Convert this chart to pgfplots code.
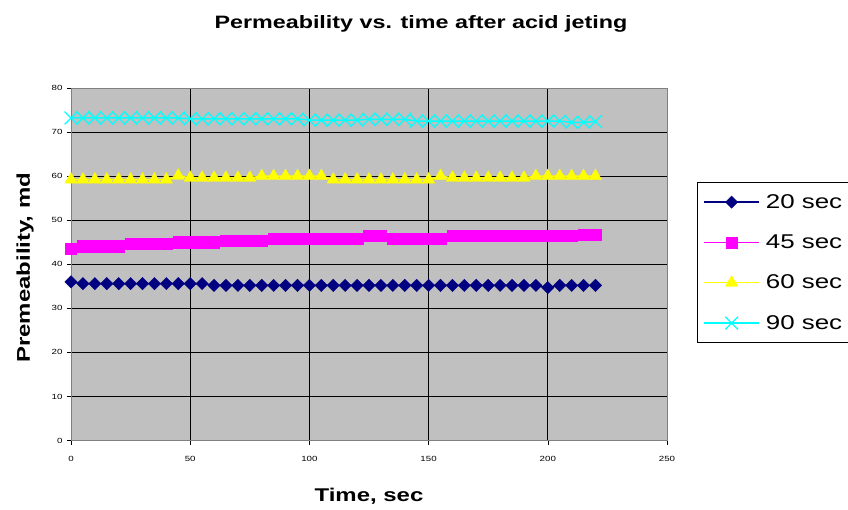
\documentclass[border=0pt]{standalone}
\usepackage{pgfplots}
\pgfplotsset{compat=1.18}
\usepackage{pgfplotstable}
\usepackage{fontspec}
\setmainfont{Liberation Sans}[FakeStretch=1.3]
\definecolor{plotgray}{HTML}{C0C0C0}
\definecolor{sNavy}{HTML}{000080}
\definecolor{sMag}{HTML}{FF00FF}
\definecolor{sYel}{HTML}{FFFF00}
\definecolor{sCyan}{HTML}{00FFFF}
\pgfplotstableread{
t s20 s45 s60 s90
0 36.0 43.5 59.2 73.2
5 35.6 44.1 59.2 73.2
10 35.6 44.1 59.2 73.2
15 35.6 44.1 59.2 73.2
20 35.6 44.1 59.2 73.2
25 35.6 44.6 59.2 73.2
30 35.6 44.6 59.2 73.2
35 35.6 44.6 59.2 73.2
40 35.6 44.6 59.2 73.2
45 35.6 45.0 60.1 73.2
50 35.6 45.0 59.6 73.0
55 35.6 45.0 59.6 73.0
60 35.2 45.0 59.6 73.0
65 35.2 45.4 59.6 73.0
70 35.2 45.4 59.6 73.0
75 35.2 45.4 59.6 73.0
80 35.2 45.4 60.0 73.0
85 35.2 45.9 60.0 73.0
90 35.2 45.9 60.0 73.0
95 35.2 45.9 60.0 73.0
100 35.2 45.9 60.0 72.7
105 35.2 45.9 60.0 72.7
110 35.2 45.9 59.2 72.7
115 35.2 45.9 59.2 72.7
120 35.2 45.9 59.2 72.7
125 35.2 46.4 59.2 72.9
130 35.2 46.4 59.2 72.9
135 35.2 45.9 59.2 72.9
140 35.2 45.9 59.2 72.9
145 35.2 45.9 59.2 72.5
150 35.2 45.9 59.2 72.5
155 35.2 45.9 60.0 72.5
160 35.2 46.4 59.6 72.5
165 35.2 46.4 59.6 72.5
170 35.2 46.4 59.6 72.5
175 35.2 46.4 59.6 72.5
180 35.2 46.4 59.6 72.5
185 35.2 46.4 59.6 72.5
190 35.2 46.4 59.6 72.5
195 35.2 46.4 60.0 72.5
200 34.7 46.4 60.0 72.5
205 35.2 46.4 60.0 72.5
210 35.2 46.4 60.0 72.2
215 35.2 46.8 60.0 72.2
220 35.2 46.8 60.0 72.4
}\datatable
\begin{document}
\begin{tikzpicture}
\path[use as bounding box] (-71bp,-69.5bp) rectangle (777bp,440.5bp);
\begin{axis}[
  at={(0,0)}, anchor=south west,
  scale only axis, width=596bp, height=352.5bp,
  xmin=0, xmax=250, ymin=0, ymax=80,
  xtick={0,50,...,250}, ytick={0,10,...,80},
  minor xtick={0,50,...,200}, minor ytick={0,10,...,70},
  xminorgrids=true, yminorgrids=true,
  minor grid style={black, line width=0.9bp},
  minor tick length=0pt,
  major tick length=4bp,
  tick align=outside, tick pos=left,
  tick style={black, line width=0.6bp},
  axis line style={draw=gray, line width=0.8bp},
  axis background/.style={fill=plotgray},
  /pgf/number format/assume math mode=true,
  ticklabel style={font=\fontsize{7.5}{9}\selectfont},
  xticklabel style={yshift=-8bp},
  yticklabel style={xshift=-1bp},
  title={\bfseries Permeability vs. time after acid jeting},
  title style={at={(0.5872,1.1645)}, anchor=center, yshift=0pt, font=\fontsize{18}{20}\selectfont},
  xlabel={\bfseries Time, sec},
  xlabel style={at={(0.5,-0.1575)}, anchor=center, font=\fontsize{18.5}{20}\selectfont},
  ylabel={\bfseries Premeability, md},
  ylabel style={at={(-0.0772,0.49)}, anchor=center, font=\fontsize{18.5}{20}\selectfont},
  legend style={at={(1.0503,0.7333)}, anchor=north west, draw=black, line width=0.8bp,
    font=\fontsize{20}{22}\selectfont, inner xsep=6bp, inner ysep=10bp, row sep=21bp,
    cells={anchor=west}, /tikz/every odd column/.append style={column sep=4bp}},
  legend image code/.code={\draw[mark repeat=2,mark phase=2,#1] plot coordinates {(0bp,0bp) (27.5bp,0bp) (55bp,0bp)};},
  clip=false,
]
\addplot[sNavy, line width=1.5bp, mark=square*, mark size=4.4bp, mark options={rotate=45, solid, fill=sNavy, draw=sNavy, line width=0.3bp}] table[x=t, y=s20] {\datatable};
\addlegendentry{20 sec}
\addplot[sMag, line width=1.5bp, mark=square*, mark size=5.6bp, mark options={solid, fill=sMag, draw=sMag, line width=0.3bp}] table[x=t, y=s45] {\datatable};
\addlegendentry{45 sec}
\addplot[sYel, line width=1.5bp, mark=triangle*, mark size=7.2bp, mark options={solid, fill=sYel, draw=sYel, line width=0.3bp}] table[x=t, y=s60] {\datatable};
\addlegendentry{60 sec}
\addplot[sCyan, line width=1.5bp, mark=x, mark size=9bp, mark options={solid, draw=sCyan, line width=1.3bp}] table[x=t, y=s90] {\datatable};
\addlegendentry{90 sec}
\end{axis}
\end{tikzpicture}
\end{document}
